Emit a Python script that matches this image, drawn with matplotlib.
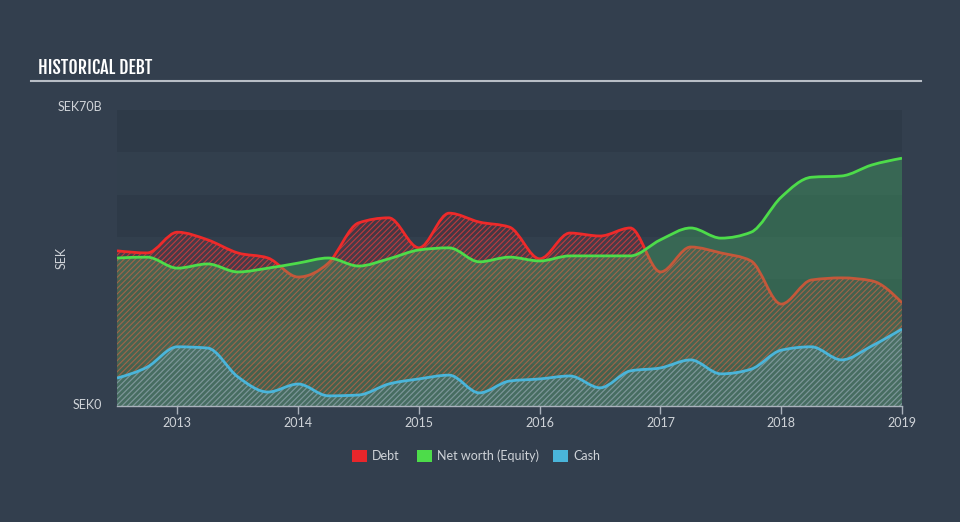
import numpy as np
import matplotlib
matplotlib.use("Agg")
import matplotlib.pyplot as plt
from matplotlib.path import Path
from matplotlib.patches import PathPatch, Rectangle
from matplotlib import font_manager

# quarterly points, values in SEK billions
dates = [2012.5, 2012.75, 2013.0, 2013.25, 2013.5, 2013.75, 2014.0, 2014.25, 2014.5,
         2014.75, 2015.0, 2015.25, 2015.5, 2015.75, 2016.0, 2016.25, 2016.5, 2016.75,
         2017.0, 2017.25, 2017.5, 2017.75, 2018.0, 2018.25, 2018.5, 2018.75, 2019.0]
debt = [36.7, 36.2, 41.1, 39.3, 36.2, 35.0, 30.5, 33.8, 43.3,
        44.5, 37.4, 45.6, 43.5, 42.3, 34.8, 40.9, 40.2, 42.1,
        31.7, 37.6, 36.2, 34.3, 24.1, 29.8, 30.3, 29.6, 24.4]
equity = [35.0, 35.2, 32.6, 33.6, 31.7, 32.6, 33.8, 35.0, 33.1,
          34.8, 36.9, 37.4, 34.1, 35.2, 34.3, 35.5, 35.5, 35.5,
          39.3, 42.1, 39.7, 41.1, 49.4, 54.1, 54.4, 57.0, 58.6]
cash = [6.6, 9.2, 14.0, 13.7, 6.9, 3.3, 5.2, 2.4, 2.6,
        5.2, 6.4, 7.3, 3.1, 5.9, 6.4, 7.1, 4.3, 8.3,
        9.0, 10.9, 7.6, 8.7, 13.2, 14.0, 10.9, 14.2, 18.2]
year_ticks = [2013, 2014, 2015, 2016, 2017, 2018, 2019]

BG = "#333f4e"
TXT = "#cfd3d8"


def monotone_path(xs, ys, area=False):
    """cubic bezier path, monotone in x (same idea as d3 curveMonotoneX)"""
    xs = np.asarray(xs, float); ys = np.asarray(ys, float)
    h = np.diff(xs); s = np.diff(ys) / h
    n = len(xs)
    t = np.zeros(n)
    for i in range(1, n - 1):
        p = (s[i - 1] * h[i] + s[i] * h[i - 1]) / (h[i - 1] + h[i])
        t[i] = (np.sign(s[i - 1]) + np.sign(s[i])) * min(abs(s[i - 1]), abs(s[i]), 0.5 * abs(p))
    t[0] = (3 * s[0] - t[1]) / 2
    t[-1] = (3 * s[-1] - t[-2]) / 2
    verts = [(xs[0], ys[0])]
    codes = [Path.MOVETO]
    for i in range(n - 1):
        dx = h[i] / 3
        verts += [(xs[i] + dx, ys[i] + dx * t[i]),
                  (xs[i + 1] - dx, ys[i + 1] - dx * t[i + 1]),
                  (xs[i + 1], ys[i + 1])]
        codes += [Path.CURVE4] * 3
    if area:
        verts += [(xs[-1], 0), (xs[0], 0), (xs[0], ys[0])]
        codes += [Path.LINETO, Path.LINETO, Path.CLOSEPOLY]
    return Path(verts, codes)


def first_font(cands, default):
    names = {f.name for f in font_manager.fontManager.ttflist}
    for c in cands:
        if c in names:
            return c
    return default


title_family = first_font(["Fjalla One", "Oswald", "Roboto Condensed", "Archivo Narrow",
                           "Asap Condensed"], "DejaVu Sans")
body_family = first_font(["Lato", "Mulish"], "DejaVu Sans")
plt.rcParams["font.family"] = [body_family, "DejaVu Sans"]
plt.rcParams["hatch.linewidth"] = 0.8

fig = plt.figure(figsize=(9.6, 5.22), dpi=100, facecolor=BG)
ax = fig.add_axes([117 / 960, 1 - 406 / 522, 785 / 960, 296 / 522])
ax.set_facecolor(BG)
ax.set_xlim(2012.5, 2019.0)
ax.set_ylim(0, 70)

# alternating horizontal bands
for k, lo in enumerate(range(0, 70, 10)):
    ax.axhspan(lo, lo + 10, color="#2e3a48" if k % 2 == 0 else "#323f4d", lw=0, zorder=0)

# debt: red hatch
ax.add_patch(PathPatch(monotone_path(dates, debt, True), facecolor="#e8262b", alpha=0.12,
                       lw=0, zorder=1))
ax.add_patch(PathPatch(monotone_path(dates, debt, True), facecolor="none", edgecolor="#dc3a3a",
                       hatch="//////", lw=0, alpha=0.8, zorder=1))
ax.add_patch(PathPatch(monotone_path(dates, debt), facecolor="none", edgecolor="#ee2a2a",
                       lw=2, zorder=2))
# equity: solid green
ax.add_patch(PathPatch(monotone_path(dates, equity, True), facecolor="#4ae26c", alpha=0.25,
                       lw=0, zorder=3))
ax.add_patch(PathPatch(monotone_path(dates, equity), facecolor="none", edgecolor="#4ddc4a",
                       lw=2, zorder=4))
# cash: blue hatch
ax.add_patch(PathPatch(monotone_path(dates, cash, True), facecolor="#4fb6d8", alpha=0.15,
                       lw=0, zorder=5))
ax.add_patch(PathPatch(monotone_path(dates, cash, True), facecolor="none", edgecolor="#6aa3ae",
                       hatch="//////", lw=0, alpha=0.8, zorder=5))
ax.add_patch(PathPatch(monotone_path(dates, cash), facecolor="none", edgecolor="#4ab5da",
                       lw=2, zorder=6))

for sp in ("top", "right", "left"):
    ax.spines[sp].set_visible(False)
ax.spines["bottom"].set_color("#aab2bc")
ax.spines["bottom"].set_linewidth(1)
ax.spines["bottom"].set_zorder(7)
ax.set_yticks([])
ax.set_xticks(year_ticks)
ax.set_xticklabels([str(y) for y in year_ticks], color=TXT, fontsize=9)
ax.tick_params(axis="x", length=6, width=1, color="#aab2bc", pad=2)

# y labels
lab = dict(color=TXT, fontsize=9)
fig.text(102 / 960, 1 - 107 / 522, "SEK70B", ha="right", va="center", **lab)
fig.text(102 / 960, 1 - 405 / 522, "SEK0", ha="right", va="center", **lab)
fig.text(62 / 960, 1 - 258 / 522, "SEK", ha="center", va="center", rotation=90, **lab)

# title + underline
fig.text(38 / 960, 1 - 68 / 522, "HISTORICAL DEBT", ha="left", va="center", color="white",
         fontsize=13, family=[title_family, "DejaVu Sans"])
fig.add_artist(plt.Line2D([31 / 960, 921 / 960], [1 - 81 / 522, 1 - 81 / 522],
                          transform=fig.transFigure, color="#b8bec6", lw=1.5))

# legend
items = [("Debt", "#e8262b", 352), ("Net worth (Equity)", "#4ddc4a", 417), ("Cash", "#4ab5da", 553)]
for label, col, x0 in items:
    fig.add_artist(Rectangle((x0 / 960, 1 - 462 / 522), 15 / 960, 12 / 522, transform=fig.transFigure,
                             facecolor=col, edgecolor="none"))
    fig.text((x0 + 20) / 960, 1 - 456 / 522, label, ha="left", va="center", **lab)

fig.savefig("out.png", dpi=100, facecolor=BG)
